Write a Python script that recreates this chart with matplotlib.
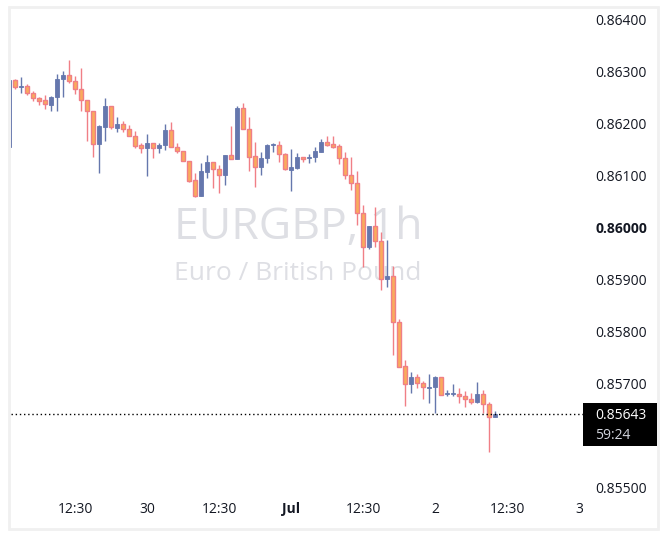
import numpy as np
import matplotlib
matplotlib.use("Agg")
import matplotlib.pyplot as plt
from matplotlib.patches import Rectangle

# hourly candles, EURGBP (index -1 is the clipped one at the left edge)
opens = [0.86156, 0.86285, 0.86271, 0.86273, 0.86260, 0.86249, 0.86246, 0.86237, 0.86251, 0.86286,
         0.86294, 0.86283, 0.86267, 0.86246, 0.86224, 0.86161, 0.86195, 0.86235, 0.86193, 0.86200,
         0.86190, 0.86177, 0.86159, 0.86153, 0.86163, 0.86153, 0.86159, 0.86188, 0.86155, 0.86148,
         0.86129, 0.86092, 0.86062, 0.86108, 0.86126, 0.86113, 0.86101, 0.86140, 0.86133, 0.86230,
         0.86190, 0.86138, 0.86117, 0.86134, 0.86160, 0.86160, 0.86142, 0.86112, 0.86115, 0.86136,
         0.86135, 0.86136, 0.86147, 0.86165, 0.86162, 0.86158, 0.86134, 0.86102, 0.86086, 0.86028,
         0.85963, 0.86004, 0.85974, 0.85901, 0.85908, 0.85820, 0.85735, 0.85699, 0.85713, 0.85702,
         0.85693, 0.85694, 0.85713, 0.85680, 0.85680, 0.85681, 0.85677, 0.85671, 0.85666, 0.85681,
         0.85661, 0.85637]
highs = [0.86287, 0.86287, 0.86291, 0.86276, 0.86264, 0.86252, 0.86256, 0.86254, 0.86296, 0.86302,
         0.86323, 0.86292, 0.86308, 0.86246, 0.86225, 0.86198, 0.86249, 0.86235, 0.86213, 0.86206,
         0.86198, 0.86186, 0.86163, 0.86181, 0.86163, 0.86163, 0.86200, 0.86203, 0.86163, 0.86148,
         0.86129, 0.86105, 0.86124, 0.86140, 0.86126, 0.86121, 0.86140, 0.86196, 0.86235, 0.86240,
         0.86214, 0.86166, 0.86147, 0.86162, 0.86164, 0.86167, 0.86145, 0.86151, 0.86144, 0.86137,
         0.86142, 0.86155, 0.86171, 0.86176, 0.86177, 0.86162, 0.86147, 0.86137, 0.86110, 0.86044,
         0.86004, 0.86040, 0.85992, 0.85977, 0.85926, 0.85824, 0.85746, 0.85723, 0.85719, 0.85706,
         0.85719, 0.85716, 0.85713, 0.85688, 0.85700, 0.85692, 0.85687, 0.85682, 0.85703, 0.85688,
         0.85665, 0.85648]
lows = [0.86150, 0.86268, 0.86260, 0.86256, 0.86245, 0.86237, 0.86229, 0.86225, 0.86225, 0.86251,
        0.86279, 0.86257, 0.86225, 0.86168, 0.86137, 0.86106, 0.86168, 0.86191, 0.86185, 0.86185,
        0.86176, 0.86153, 0.86144, 0.86099, 0.86135, 0.86145, 0.86150, 0.86155, 0.86145, 0.86128,
        0.86089, 0.86060, 0.86062, 0.86096, 0.86076, 0.86068, 0.86083, 0.86133, 0.86133, 0.86190,
        0.86110, 0.86079, 0.86102, 0.86124, 0.86146, 0.86126, 0.86112, 0.86072, 0.86113, 0.86126,
        0.86124, 0.86126, 0.86147, 0.86158, 0.86154, 0.86123, 0.86094, 0.86073, 0.86006, 0.85924,
        0.85959, 0.85964, 0.85880, 0.85887, 0.85756, 0.85733, 0.85658, 0.85682, 0.85692, 0.85671,
        0.85663, 0.85644, 0.85678, 0.85676, 0.85677, 0.85663, 0.85656, 0.85662, 0.85663, 0.85644,
        0.85570, 0.85637]
closes = [0.86285, 0.86271, 0.86273, 0.86259, 0.86249, 0.86245, 0.86238, 0.86252, 0.86287, 0.86294,
          0.86283, 0.86267, 0.86246, 0.86224, 0.86161, 0.86196, 0.86235, 0.86194, 0.86200, 0.86190,
          0.86177, 0.86158, 0.86153, 0.86163, 0.86153, 0.86160, 0.86188, 0.86155, 0.86148, 0.86129,
          0.86091, 0.86062, 0.86110, 0.86126, 0.86113, 0.86101, 0.86140, 0.86133, 0.86230, 0.86190,
          0.86137, 0.86117, 0.86135, 0.86160, 0.86161, 0.86142, 0.86113, 0.86117, 0.86136, 0.86133,
          0.86137, 0.86148, 0.86165, 0.86160, 0.86156, 0.86134, 0.86102, 0.86086, 0.86028, 0.85963,
          0.86004, 0.85974, 0.85901, 0.85908, 0.85820, 0.85733, 0.85699, 0.85713, 0.85701, 0.85694,
          0.85695, 0.85713, 0.85678, 0.85681, 0.85681, 0.85676, 0.85671, 0.85666, 0.85681, 0.85661,
          0.85637, 0.85643]

last_price = 0.85643
countdown = "59:24"
price_ticks = [0.864, 0.863, 0.862, 0.861, 0.860, 0.859, 0.858, 0.857, 0.855]
time_tick_idx = [10, 22, 34, 46, 58, 70, 82, 94]
time_tick_labels = ["12:30", "30", "12:30", "Jul", "12:30", "2", "12:30", "3"]

UP = "#6577ad"
DN_FILL = "#f9ab5c"
DN_EDGE = "#f07f86"
TXT = "#131722"

plt.rcParams['font.family'] = ['Open Sans', 'DejaVu Sans']

fig = plt.figure(figsize=(6.7, 5.45), dpi=100)
W, H = 670, 545

# card border
fig.patches.append(Rectangle((9 / W, 1 - 529 / H), 649 / W, 522 / H, transform=fig.transFigure,
                             facecolor="none", edgecolor="#f0f0f0", linewidth=2, zorder=-1))

bottom = 1 - 495 / H
top = 1 - 8 / H
ax = fig.add_axes([11 / W, bottom, (585 - 11) / W, top - bottom])
ax.set_xlim(-0.72, 94.95)
ymin, ymax = 0.854865, 0.86423
ax.set_ylim(ymin, ymax)
for s in ax.spines.values():
    s.set_visible(False)
ax.set_yticks([])
ax.patch.set_alpha(0)

x = np.arange(-1, len(opens) - 1)
o = np.array(opens); h = np.array(highs); l = np.array(lows); c = np.array(closes)
up = c >= o
minh = 0.000018

# watermark
ax.text(0.5, 0.548, "EURGBP, 1h", transform=ax.transAxes, ha="center", va="center",
        fontsize=32, color="#dedfe4", zorder=0)
ax.text(0.5, 0.455, "Euro / British Pound", transform=ax.transAxes, ha="center", va="center",
        fontsize=19, color="#dedfe4", zorder=0)

ax.vlines(x[up], l[up], h[up], color=UP, linewidth=1.0, zorder=2)
ax.vlines(x[~up], l[~up], h[~up], color=DN_EDGE, linewidth=1.0, zorder=2)
body_lo = np.minimum(o, c)
body_h = np.maximum(np.abs(c - o), minh)
ax.bar(x[up], body_h[up], bottom=body_lo[up], width=0.72, color=UP, edgecolor=UP,
       linewidth=0.6, zorder=3)
ax.bar(x[~up], body_h[~up], bottom=body_lo[~up], width=0.64, color=DN_FILL, edgecolor=DN_EDGE,
       linewidth=1.0, zorder=3)

# last price line
ax.axhline(last_price, color="black", linestyle=(0, (1, 2)), linewidth=1.0, zorder=4)

ax.set_xticks(time_tick_idx)
ax.set_xticklabels(time_tick_labels, fontsize=10, color=TXT)
ax.tick_params(axis="x", length=0, pad=5)
ax.get_xticklabels()[3].set_fontweight("bold")

# price scale
pax = fig.add_axes([585 / W, 1 - 493 / H, (657 - 585) / W, 493 / H - 8 / H])
pax.set_xlim(0, 1)
pax.set_ylim(ymin + 2 * (ymax - ymin) / 487, ymax)
pax.axis("off")
for p in price_ticks:
    pax.text(0.14, p, f"{p:.5f}", fontsize=10, color=TXT, va="center_baseline", ha="left",
             fontweight="bold" if abs(p - 0.86) < 1e-9 else "normal", clip_on=True)
span = ymax - ymin
px = span / (495 - 8)
pax.add_patch(Rectangle((-0.03, last_price - 32 * px), 1.03, 43 * px, facecolor="black",
                        edgecolor="none", zorder=5, clip_on=False))
pax.text(0.14, last_price, f"{last_price:.5f}", fontsize=10, color="white",
         va="center_baseline", ha="left", zorder=6)
pax.text(0.14, last_price - 20 * px, countdown, fontsize=10, color="#d1d4dc",
         va="center_baseline", ha="left", zorder=6)

fig.savefig("out.png", dpi=100, facecolor="white")
